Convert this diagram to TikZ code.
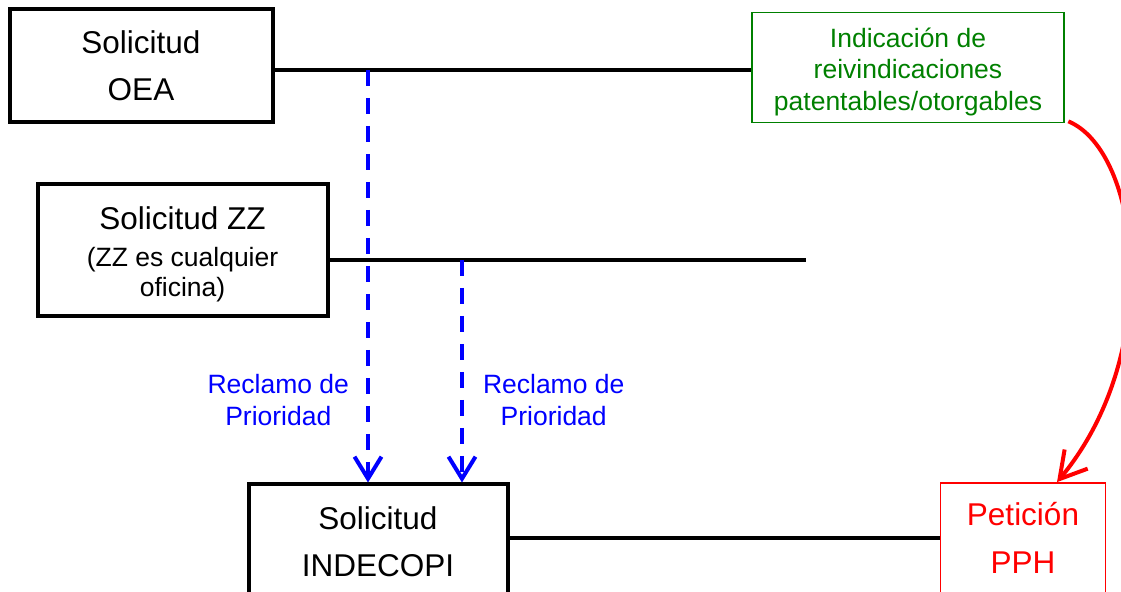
\documentclass[tikz,border=0pt]{standalone}
\usepackage{fontspec}
\setmainfont{Liberation Sans}
\usetikzlibrary{arrows.meta,positioning}

\definecolor{indgreen}{RGB}{0,128,0}

\tikzset{
    box/.style={draw, line width=2pt, align=center,
        font=\fontsize{15.75}{23.5}\selectfont},
    thinbox/.style={draw, line width=0.85pt, align=center},
    link/.style={line width=2pt},
    prio/.style={blue, line width=2pt, dash pattern=on 8pt off 6pt,
        -{Straight Barb[length=11pt, width=13.5pt]}},
    priolabel/.style={blue, align=center, inner sep=0pt,
        font=\fontsize{13.25}{16}\selectfont},
}

\begin{document}
\begin{tikzpicture}[x=0.5pt, y=-0.5pt]
        \useasboundingbox (0,0) rectangle (1121,592);

        % 1. Define Coordinates
        \coordinate (zzend) at (806,260);   % end of the ZZ line
        \coordinate (p1)    at (368,70);    % priority from OEA
        \coordinate (p2)    at (462,260);   % priority from ZZ

        % 2. Boxes
        \node[box, minimum width=131.5pt, minimum height=56.5pt] (oea) at (141,66) {Solicitud\\OEA};
        \node[box, minimum width=145pt, minimum height=66pt,
              font=\fontsize{13.25}{15}\selectfont] (zz) at (182.5,250.5)
              {\rule{0pt}{15pt}\fontsize{15.75}{18.5}\selectfont Solicitud ZZ\\[3.5pt](ZZ es cualquier\\oficina)};
        \node[thinbox, indgreen, minimum width=156pt, minimum height=55pt,
              font=\fontsize{13.25}{15.75}\selectfont] (ind) at (908,67.5)
              {\rule{0pt}{14pt}Indicación de\\reivindicaciones\\patentables/otorgables};
        \node[box, minimum width=129.5pt, minimum height=56.75pt] (indecopi) at (378,541.25) {Solicitud\\INDECOPI};
        \node[thinbox, red, minimum width=82.5pt, minimum height=55pt,
              font=\fontsize{15.75}{24}\selectfont] (pph) at (1023,538) {Petición\\PPH};

        % 3. Lines between the applications
        \draw[link] ([yshift=-2pt]oea.east) -- ([yshift=-2pt]oea.east -| ind.west);
        \draw[link] (zz.east |- zzend) -- (zzend);
        \draw[link] (indecopi.east |- pph.west) -- (pph.west);

        % 4. Priority claims (blue, dashed)
        \draw[prio] (p1) -- (p1 |- indecopi.north)
            node[priolabel, pos=0.8, left=8.5pt] (lab1) {Reclamo de\\Prioridad};
        \draw[prio] (p2) -- (p2 |- indecopi.north)
            node[priolabel, pos=0.628, right=9.5pt] (lab2) {Reclamo de\\Prioridad};

        % 5. The PPH request
        \draw[red, line width=2pt, -{Straight Barb[length=13pt, width=15pt]}]
            ([shift={(1.75pt,1pt)}]ind.south east) .. controls +(72,30) and +(108,-130) .. ([xshift=17pt]pph.north);
    \end{tikzpicture}
\end{document}
